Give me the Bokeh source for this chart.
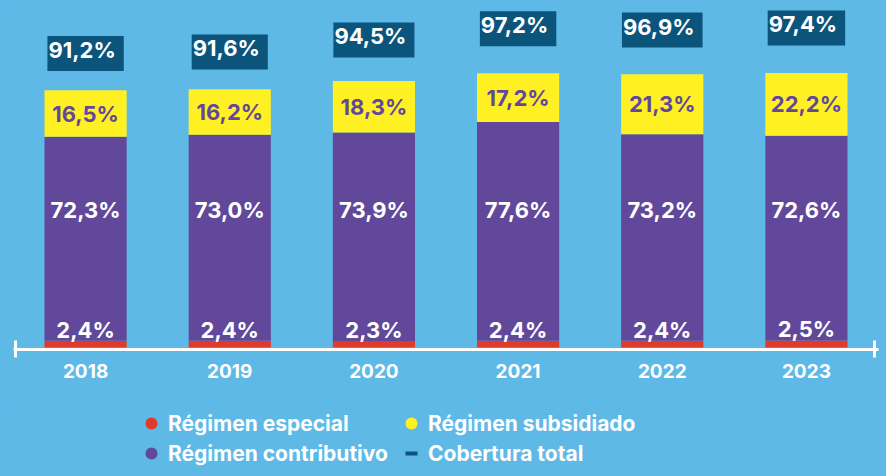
from bokeh.plotting import figure
from bokeh.layouts import column
from bokeh.models import ColumnDataSource, Range1d, FixedTicker, Legend, LegendItem
from bokeh.core.properties import value
from bokeh.embed import file_html
from bokeh.resources import INLINE

years = ["2018", "2019", "2020", "2021", "2022", "2023"]
especial = [2.4, 2.4, 2.3, 2.4, 2.4, 2.5]
contributivo = [72.3, 73.0, 73.9, 77.6, 73.2, 72.6]
subsidiado = [16.5, 16.2, 18.3, 17.2, 21.3, 22.2]
cobertura = [91.2, 91.6, 94.5, 97.2, 96.9, 97.4]
legend_labels = ["Régimen especial", "Régimen contributivo",
                 "Régimen subsidiado", "Cobertura total"]

BG = "#5EB9E7"
RED = "#E03A28"
PURPLE = "#62489B"
YELLOW = "#FFF024"
NAVY = "#0B547C"
FONT = "Inter"

def fmt(v):
    return f"{v:.1f}%".replace(".", ",")

x = list(range(len(years)))
src = ColumnDataSource(dict(
    x=x,
    especial=especial,
    contributivo=contributivo,
    subsidiado=subsidiado,
    cobertura=cobertura,
    esp_lbl=[fmt(v) for v in especial],
    con_lbl=[fmt(v) for v in contributivo],
    sub_lbl=[fmt(v) for v in subsidiado],
    cob_lbl=[fmt(v) for v in cobertura],
    con_y=[max(cobertura) / 2] * len(years),
    sub_y=[e + c + s / 2 for e, c, s in zip(especial, contributivo, subsidiado)],
))

p = figure(frame_width=865, frame_height=341,
           x_range=Range1d(-0.5, 5.5), y_range=Range1d(-0.71, 120.2),
           output_backend="svg", toolbar_location=None,
           y_axis_location=None,
           min_border_left=13, min_border_right=8, min_border_top=8, min_border_bottom=51,
           background_fill_color=BG, border_fill_color=BG, outline_line_color=None)
p.extra_y_ranges = {"tot": Range1d(19.7, 102.1)}
p.grid.visible = False

p.vbar_stack(["especial", "contributivo", "subsidiado"], x="x", width=0.57,
             color=[RED, PURPLE, YELLOW], line_color=None, source=src)

common = dict(text_font=value(FONT), text_font_style="bold", text_align="center",
              text_font_size="22px", source=src)
p.text(x="x", y="especial", text="esp_lbl", text_color="white",
       text_baseline="alphabetic", y_offset=-11, **common)
p.text(x="x", y="con_y", text="con_lbl", text_color="white",
       text_baseline="middle", **common)
p.text(x="x", y="sub_y", text="sub_lbl", text_color=PURPLE,
       text_baseline="middle", **common)
p.text(x="x", y="cobertura", text="cob_lbl", text_color="white",
       text_baseline="middle", y_range_name="tot",
       background_fill_color=NAVY, padding=[1, 8, 1, 8], **common)

ax = p.xaxis[0]
ax.ticker = FixedTicker(ticks=x, minor_ticks=[-0.485, 5.47])
ax.major_label_overrides = {i: y for i, y in enumerate(years)}
ax.axis_line_color = "white"
ax.axis_line_width = 3
ax.major_tick_line_color = None
ax.major_tick_in = 0
ax.major_tick_out = 0
ax.minor_tick_line_color = "white"
ax.minor_tick_line_width = 3
ax.minor_tick_in = 9
ax.minor_tick_out = 8
ax.major_label_standoff = 6
ax.major_label_text_font = FONT
ax.major_label_text_font_style = "bold"
ax.major_label_text_font_size = "19px"
ax.major_label_text_color = "white"

# legend strip below the chart (swatch renderers hold one point outside the view)
q = figure(width=886, height=76, x_range=Range1d(0, 1), y_range=Range1d(0, 1),
           output_backend="svg", toolbar_location=None,
           x_axis_location=None, y_axis_location=None,
           min_border_left=0, min_border_right=0, min_border_top=0, min_border_bottom=0,
           background_fill_color=BG, border_fill_color=BG, outline_line_color=None)
q.grid.visible = False
off = dict(x=[-5], y=[-5])
r_esp = q.scatter(**off, marker="circle", fill_color=RED, line_color=None)
r_con = q.scatter(**off, marker="circle", fill_color=PURPLE, line_color=None)
r_sub = q.scatter(**off, marker="circle", fill_color=YELLOW, line_color=None)
r_cob = q.scatter(**off, marker="dash", line_color=NAVY, line_width=4)

legend = Legend(items=[
    LegendItem(label=lbl, renderers=[r])
    for lbl, r in zip(legend_labels, [r_esp, r_con, r_sub, r_cob])
], ncols=2, location=(123, 8), orientation="vertical",
    glyph_width=30, glyph_height=30, label_standoff=2, spacing=0, label_width=228,
    padding=4, margin=0, background_fill_alpha=0, border_line_color=None,
    label_text_font=FONT, label_text_font_style="bold",
    label_text_font_size="21px", label_text_color="white")
q.add_layout(legend, "center")

layout = column(p, q, spacing=0)

html = file_html(layout, INLINE)
html = html.replace("</head>", "<style>html,body{background:%s;}</style></head>" % BG)
open("out.html", "w").write(html)
